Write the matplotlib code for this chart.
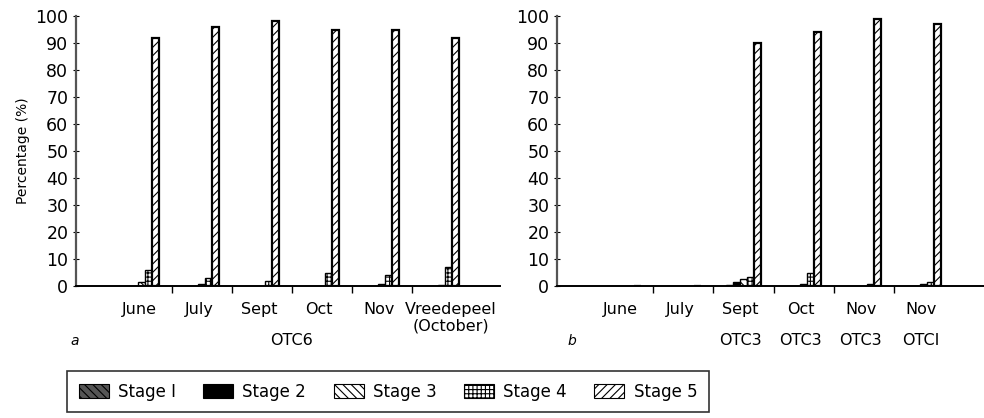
import matplotlib
matplotlib.use("Agg")
import matplotlib.pyplot as plt
from matplotlib.patches import Patch
import numpy as np

plt.rcParams['font.family'] = ['DejaVu Sans']
plt.rcParams['hatch.linewidth'] = 0.8

stages = ["Stage 1", "Stage 2", "Stage 3", "Stage 4", "Stage 5"]
stage_labels = ["Stage I", "Stage 2", "Stage 3", "Stage 4", "Stage 5"]

# Panel a (OTC6)
cats_a = ["June", "July", "Sept", "Oct", "Nov", "Vreedepeel\n(October)"]
a_s1 = [0, 0, 0, 0, 0, 0]
a_s2 = [0, 0, 0, 0, 0, 0]
a_s3 = [1.5, 0.8, 0, 0, 0.7, 0.5]
a_s4 = [6, 3, 2, 5, 4, 7]
a_s5 = [92, 96, 98, 95, 95, 92]

# Panel b
cats_b = ["June", "July", "Sept", "Oct", "Nov", "Nov"]
sub_b = ["", "", "OTC3", "OTC3", "OTC3", "OTCI"]
b_s1 = [0, 0, 0.5, 0, 0, 0]
b_s2 = [0, 0, 1.5, 0, 0, 0]
b_s3 = [0, 0, 2.5, 0.7, 0, 0.7]
b_s4 = [0, 0, 3.5, 5, 0.7, 1.5]
b_s5 = [0, 0, 90, 94, 99, 97]

styles = [
    dict(facecolor="#555555", hatch="\\\\\\\\", edgecolor="black"),
    dict(facecolor="black", hatch=None, edgecolor="black"),
    dict(facecolor="white", hatch="\\\\\\\\", edgecolor="black"),
    dict(facecolor="white", hatch="++++", edgecolor="black"),
    dict(facecolor="white", hatch="////", edgecolor="black"),
]

fig = plt.figure(figsize=(9.84, 4.18), dpi=100)
W, H = 984, 418

def px_axes(x0, x1, y0, y1):
    return fig.add_axes([x0 / W, (H - y1) / H, (x1 - x0) / W, (y1 - y0) / H])

ax_a = px_axes(76, 500, 16, 286)
ax_b = px_axes(557, 984, 16, 286)

bw = 7 / 60.0

def draw(ax, data, cats, xmax, last_shift=0.0):
    x = np.arange(len(cats))
    for k, vals in enumerate(data):
        st = styles[k]
        lw = 1.6 if k == 4 else 1.0
        ax.bar(x + (k - 2) * bw, vals, width=bw, facecolor=st["facecolor"],
               hatch=st["hatch"], edgecolor=st["edgecolor"], linewidth=lw)
    ax.set_xlim(-1.1, xmax)
    ax.set_ylim(0, 100)
    ax.set_yticks(np.arange(0, 101, 10))
    ax.set_yticklabels([str(v) for v in range(0, 101, 10)], fontsize=12.5)
    ax.set_xticks(np.arange(0.5, len(cats) - 1, 1.0))
    ax.set_xticklabels([])
    ax.tick_params(axis='x', direction='out', length=5, width=1)
    ax.tick_params(axis='y', direction='inout', length=5, width=0.8, pad=3)
    for s in ["top", "right"]:
        ax.spines[s].set_visible(False)
    ax.spines["left"].set_linewidth(1.6)
    ax.spines["left"].set_color("#555555")
    ax.spines["bottom"].set_linewidth(1.4)
    for i, c in enumerate(cats):
        xi = i - 0.05 + (last_shift if i == len(cats) - 1 else 0.0)
        ax.text(xi, -6, c, ha="center", va="top", fontsize=11.5,
                transform=ax.transData, linespacing=1.1)

draw(ax_a, [a_s1, a_s2, a_s3, a_s4, a_s5], cats_a, 5.967, last_shift=0.2)
draw(ax_b, [b_s1, b_s2, b_s3, b_s4, b_s5], cats_b, 6.0)

ax_a.set_ylabel("Percentage (%)", fontsize=10, labelpad=4)
ax_a.text(2.5, -17.5, "OTC6", ha="center", va="top", fontsize=11.5)
ax_a.text(-1.2, -17.8, "a", ha="left", va="top", fontsize=10, style="italic")
ax_b.text(-0.93, -17.8, "b", ha="left", va="top", fontsize=10, style="italic")
for i, s in enumerate(sub_b):
    if s:
        ax_b.text(i - 0.05, -17.5, s, ha="center", va="top", fontsize=11.5)

handles = [Patch(facecolor=styles[k]["facecolor"], hatch=styles[k]["hatch"],
                 edgecolor="black", linewidth=0.8) for k in range(5)]
leg = fig.legend(handles, stage_labels, ncol=5, loc="upper left",
                 bbox_to_anchor=(67 / W, (H - 371) / H), fontsize=12,
                 frameon=True, fancybox=False, edgecolor="black",
                 borderaxespad=0.0,
                 handlelength=1.8, handleheight=0.85, columnspacing=1.65,
                 handletextpad=0.55, borderpad=0.7)
leg.get_frame().set_linewidth(1.2)

fig.savefig("out.png", dpi=100)
